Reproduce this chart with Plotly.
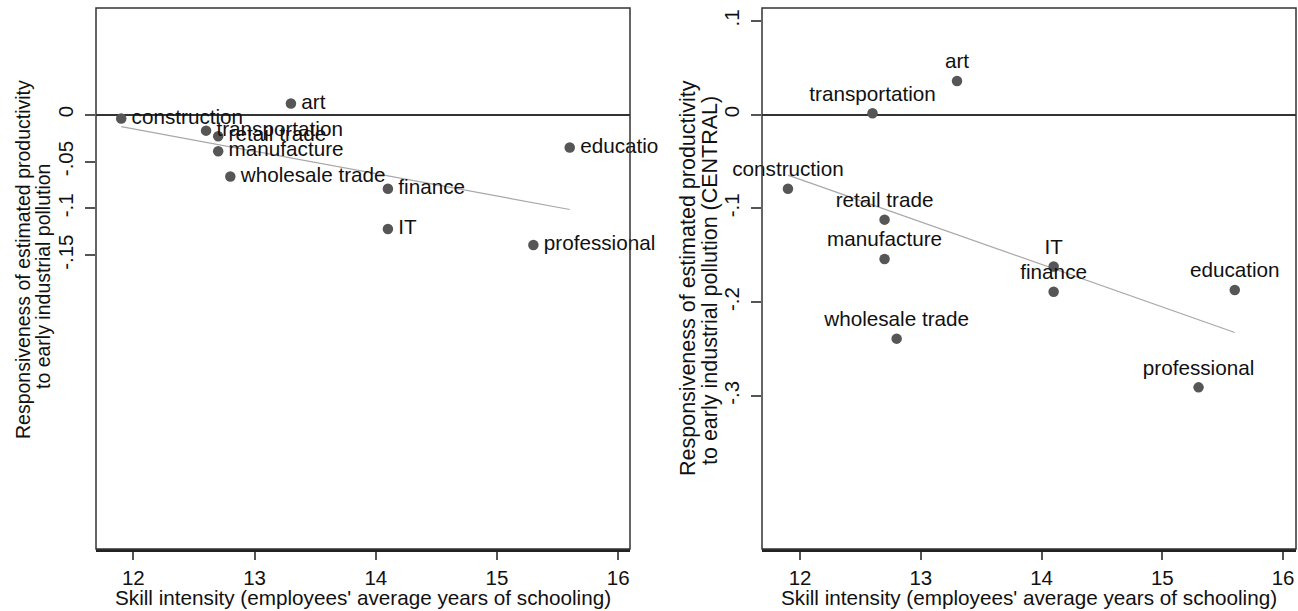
import numpy as np
import plotly.graph_objects as go

# Industry-level data: average schooling vs. estimated responsiveness
industries = ["construction", "transportation", "retail trade", "manufacture",
              "wholesale trade", "art", "finance", "IT", "education", "professional"]
schooling = [11.9, 12.6, 12.7, 12.7, 12.8, 13.3, 14.1, 14.1, 15.6, 15.3]
resp_all = [-0.004, -0.017, -0.023, -0.039, -0.066, 0.012, -0.079, -0.122, -0.035, -0.139]
resp_central = [-0.079, 0.0015, -0.112, -0.154, -0.239, 0.036, -0.189, -0.162, -0.187, -0.291]

x_ticks = [12, 13, 14, 15, 16]
left_yticks = [0, -0.05, -0.1, -0.15]
left_yticktext = ["0", "-.05", "-.1", "-.15"]
right_yticks = [0.1, 0, -0.1, -0.2, -0.3]
right_yticktext = [".1", "0", "-.1", "-.2", "-.3"]

x_title = "Skill intensity (employees' average years of schooling)"
left_ytitle = ["Responsiveness of estimated productivity", "to early industrial pollution"]
right_ytitle = ["Responsiveness of estimated productivity", "to early industrial pollution (CENTRAL)"]

# page geometry (pixels)
W, H = 1298, 611
L0, L1 = 96, 630          # left plot box
R0, R1 = 762, 1296        # right plot box
TOP, BOT = 8, 549
LABEL_CLIP = 658          # left-panel labels are cut off here

xr_left = [11.692, 16.097]
xr_right = [11.685, 16.107]
y_range = [-0.4635, 0.1139]


def fx(p):
    return p / W


def fy(p):
    return 1 - p / H


FONT = "Arial, Liberation Sans, sans-serif"
TXT = "#111111"
MARK = "#565656"
AX = "#333333"
LABEL_FONT = dict(family=FONT, size=20.7, color=TXT)

fig = go.Figure()

# fitted lines
for xa, ya, vals in [("x", "y", resp_all), ("x2", "y2", resp_central)]:
    b, a = np.polyfit(schooling, vals, 1)
    xs = np.array([min(schooling), max(schooling)])
    fig.add_trace(go.Scatter(x=xs, y=a + b * xs, mode="lines", xaxis=xa, yaxis=ya,
                             line=dict(color="#a8a8a8", width=1.2),
                             showlegend=False, hoverinfo="skip"))

# left panel: points, then labels to the right (on a wider clip region;
# the transparent markers only set the text offset)
fig.add_trace(go.Scatter(x=schooling, y=resp_all, mode="markers", xaxis="x3", yaxis="y3",
                         cliponaxis=True, marker=dict(color=MARK, size=10.5),
                         showlegend=False))
fig.add_trace(go.Scatter(x=schooling, y=resp_all, mode="markers+text", text=industries,
                         textposition="middle right", xaxis="x3", yaxis="y3",
                         cliponaxis=True,
                         marker=dict(color="rgba(0,0,0,0)", size=15),
                         textfont=LABEL_FONT, showlegend=False, hoverinfo="skip"))

# right panel points with labels above
fig.add_trace(go.Scatter(x=schooling, y=resp_central, mode="markers+text", text=industries,
                         textposition="top center", xaxis="x2", yaxis="y2",
                         cliponaxis=False,
                         marker=dict(color=MARK, size=10.5),
                         textfont=LABEL_FONT, showlegend=False))

ydom = [fy(BOT), fy(TOP)]
tickfont = dict(family=FONT, size=20.5, color=TXT)

xcommon = dict(tickvals=x_ticks, ticks="outside", ticklen=8, tickwidth=1.5,
               tickcolor="#555555", showgrid=False, zeroline=False,
               showline=True, linewidth=3, linecolor="#222222",
               tickfont=tickfont, ticklabelstandoff=0, fixedrange=True)
ycommon = dict(range=y_range, ticks="outside", ticklen=10, tickwidth=1.5,
               tickcolor="#555555", showgrid=False, zeroline=True,
               zerolinecolor=AX, zerolinewidth=1.5, showline=False,
               tickangle=-90, tickfont=tickfont, ticklabelstandoff=4, fixedrange=True)

x3_hi = xr_left[0] + (LABEL_CLIP - L0) * (xr_left[1] - xr_left[0]) / (L1 - L0)

fig.update_layout(
    width=W, height=H,
    margin=dict(l=0, r=0, t=0, b=0),
    paper_bgcolor="white", plot_bgcolor="rgba(0,0,0,0)",
    xaxis=dict(domain=[fx(L0), fx(L1)], range=xr_left, anchor="y", **xcommon),
    yaxis=dict(domain=ydom, anchor="x", tickvals=left_yticks,
               ticktext=left_yticktext, **ycommon),
    xaxis2=dict(domain=[fx(R0), fx(R1)], range=xr_right, anchor="y2", **xcommon),
    yaxis2=dict(domain=ydom, anchor="x2", tickvals=right_yticks,
                ticktext=right_yticktext, **ycommon),
    xaxis3=dict(domain=[fx(L0), fx(LABEL_CLIP)], range=[xr_left[0], x3_hi],
                anchor="y3", visible=False, fixedrange=True),
    yaxis3=dict(domain=ydom, range=y_range, anchor="x3", visible=False, fixedrange=True),
    showlegend=False,
)

# plot boxes
for xd, yd in [("x domain", "y domain"), ("x2 domain", "y2 domain")]:
    fig.add_shape(type="rect", xref=xd, yref=yd, x0=0, x1=1, y0=0, y1=1,
                  line=dict(color=AX, width=1.5), layer="above")

# axis titles
ann = []
for cx in [(L0 + L1) / 2, (R0 + R1) / 2]:
    ann.append(dict(x=fx(cx), y=fy(597), xref="paper", yref="paper", text=x_title,
                    showarrow=False, xanchor="center", yanchor="middle",
                    font=dict(family=FONT, size=20.7, color=TXT)))
for (lx, ly), line in zip([(23, 260), (43, 277)], left_ytitle):
    ann.append(dict(x=fx(lx), y=fy(ly), xref="paper", yref="paper", text=line,
                    textangle=-90, showarrow=False, xanchor="center", yanchor="middle",
                    font=dict(family=FONT, size=19.5, color=TXT)))
for (lx, ly), line in zip([(688, 278), (710, 281)], right_ytitle):
    ann.append(dict(x=fx(lx), y=fy(ly), xref="paper", yref="paper", text=line,
                    textangle=-90, showarrow=False, xanchor="center", yanchor="middle",
                    font=dict(family=FONT, size=21.5, color=TXT)))
fig.update_layout(annotations=ann)

fig.write_html("out.html", config={"displayModeBar": False})
